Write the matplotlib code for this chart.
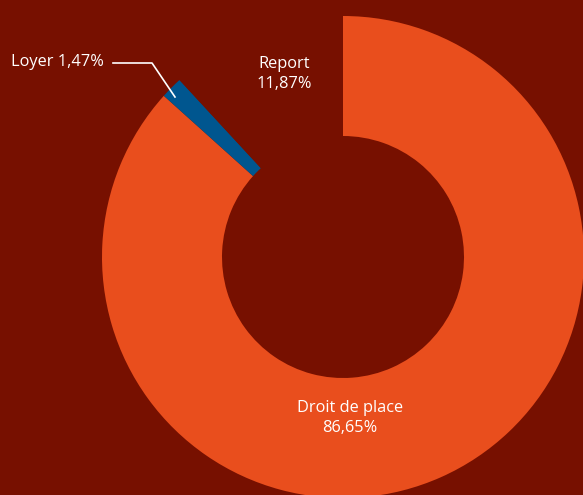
import matplotlib
matplotlib.use("Agg")
import matplotlib.pyplot as plt

categories = ["Droit de place", "Loyer", "Report"]
values = [86.65, 1.47, 11.87]
labels = ["Droit de place\n86,65%", "Loyer 1,47%", "Report\n11,87%"]

BG = "#771000"
colors = ["#e94e1d", "#00568f", BG]

plt.rcParams['font.family'] = ['Open Sans', 'DejaVu Sans']

W, H = 583, 495
fig = plt.figure(figsize=(W / 100, H / 100), dpi=100, facecolor=BG)
ax = fig.add_axes([0, 0, 1, 1])
ax.set_facecolor(BG)

cx, cy = 343, H - 257
R = 241
ax.pie(values, colors=colors, startangle=90, counterclock=False,
       center=(cx, cy), radius=R, frame=True,
       wedgeprops=dict(width=120, linewidth=0))
ax.set_xlim(0, W)
ax.set_ylim(0, H)
ax.axis("off")

fs = 11.8
ax.text(350, H - 418, labels[0], ha="center", va="center", color="white",
        fontsize=fs, linespacing=1.4)
ax.text(284, H - 74, labels[2], ha="center", va="center", color="white",
        fontsize=fs, linespacing=1.4)
ax.text(104, H - 62, labels[1], ha="right", va="center", color="white",
        fontsize=fs)
ax.plot([113, 152, 175], [H - 63, H - 63, H - 97], color="white", lw=1.2)

fig.savefig("out.png", dpi=100, facecolor=BG)
